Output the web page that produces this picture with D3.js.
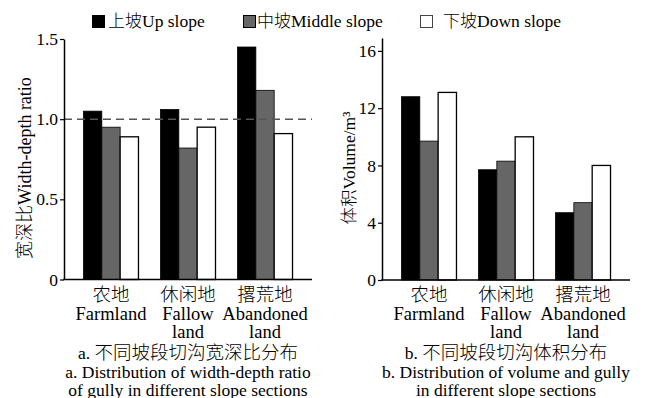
<!DOCTYPE html>
<html>
<head>
<meta charset="utf-8">
<script src="https://cdn.jsdelivr.net/npm/d3@7"></script>
<style>
  body { margin: 0; background: #fff; }
  text { font-family: "Liberation Serif", "Times New Roman", serif; fill: #000; }
</style>
</head>
<body>
<script>
// categories and series names
var landCn = ['农地', '休闲地', '撂荒地'];
var landEn = [['Farmland'], ['Fallow', 'land'], ['Abandoned', 'land']];
var slopes = ['上坡Up slope', '中坡Middle slope', '下坡Down slope'];
var slopeColors = ['#000', '#666', '#fff'];

// width-depth ratio
var ratioUp = [1.05, 1.06, 1.45];
var ratioMiddle = [0.95, 0.82, 1.18];
var ratioDown = [0.89, 0.95, 0.91];
var ratioTicks = [0, 0.5, 1.0, 1.5];

// volume
var volumeUp = [12.8, 7.7, 4.7];
var volumeMiddle = [9.7, 8.3, 5.4];
var volumeDown = [13.1, 10.0, 8.0];
var volumeTicks = [0, 4, 8, 12, 16];

var width = 646, height = 398;

var svg = d3.select('body').append('svg')
	.attr('width', width)
	.attr('height', height);

// put CJK runs in their own tspans so they get a CJK font
function mixedText(sel, str, cjkSize) {
	str.split(/([\u4e00-\u9fff]+)/).forEach(function(part) {
		if (!part) return;
		var t = sel.append('tspan').text(part);
		if (/[\u4e00-\u9fff]/.test(part)) {
			t.style('font-family', '"Noto Sans CJK SC", sans-serif')
				.style('font-weight', 300)
				.style('font-size', cjkSize + 'px');
		}
	});
	return sel;
}

// legend
var legendX = [92, 243, 420];
var legendTextX = [108, 257, 443];
var legend = svg.append('g');
slopes.forEach(function(s, i) {
	legend.append('rect')
		.attr('x', legendX[i] + 0.5).attr('y', 15.5)
		.attr('width', 12).attr('height', 12)
		.attr('fill', slopeColors[i])
		.attr('stroke', i == 2 ? '#444' : '#000')
		.attr('stroke-width', 1);
	var t = legend.append('text')
		.attr('x', legendTextX[i]).attr('y', 27)
		.style('font-size', '17.5px');
	mixedText(t, s, 17);
});

function drawPanel(opts) {
	var g = svg.append('g');

	var x0 = d3.scaleBand()
		.domain(landCn)
		.range([opts.left, opts.right])
		.paddingInner(0.286)
		.paddingOuter(0.253);

	var x1 = d3.scaleBand()
		.domain([0, 1, 2])
		.range([0, x0.bandwidth()]);

	var y = d3.scaleLinear()
		.domain([0, opts.max])
		.range([opts.bottom, opts.top]);

	// bars
	opts.series.forEach(function(vals, si) {
		g.append('g').selectAll('rect')
			.data(vals)
			.enter().append('rect')
			.attr('x', function(d, i) { return x0(landCn[i]) + x1(si); })
			.attr('y', function(d) { return y(d); })
			.attr('width', x1.bandwidth())
			.attr('height', function(d) { return y(0) - y(d); })
			.attr('fill', slopeColors[si])
			.attr('stroke', '#000')
			.attr('stroke-width', si == 2 ? 1.3 : 0.8);
	});

	// reference line
	if (opts.refLine != null) {
		g.append('line')
			.attr('x1', opts.left).attr('x2', opts.right)
			.attr('y1', y(opts.refLine)).attr('y2', y(opts.refLine))
			.attr('stroke', '#555')
			.attr('stroke-width', 1.5)
			.attr('stroke-dasharray', '8,5');
	}

	// y axis
	var yAxis = d3.axisLeft(y)
		.tickValues(opts.ticks)
		.tickFormat(opts.format)
		.tickSize(4)
		.tickSizeOuter(0)
		.tickPadding(2);

	var ya = g.append('g')
		.attr('transform', 'translate(' + opts.left + ',0)')
		.call(yAxis);
	ya.select('.domain').attr('stroke-width', 1.5);
	ya.selectAll('.tick line').attr('stroke-width', 1.2);
	ya.selectAll('text')
		.style('font-size', '17.5px')
		.style('font-family', '"Liberation Serif", serif');

	// x axis line
	var xAxis = d3.axisBottom(x0).tickSize(0).tickFormat('');
	var xa = g.append('g')
		.attr('transform', 'translate(0,' + opts.bottom + ')')
		.call(xAxis);
	xa.select('.domain')
		.attr('d', 'M' + (opts.left - 0.75) + ',0H' + opts.right)
		.attr('stroke-width', 1.5);

	// category labels
	landCn.forEach(function(c, i) {
		var cx = x0(c) + x0.bandwidth() / 2;
		var lines = [c].concat(landEn[i]);
		lines.forEach(function(line, li) {
			var t = g.append('text')
				.attr('x', cx)
				.attr('y', [301, 320, 338][li])
				.attr('text-anchor', 'middle')
				.style('font-size', '18.5px');
			mixedText(t, line, 18.5);
		});
	});

	// y label
	var yl = g.append('text')
		.attr('transform', 'translate(' + opts.labelX + ',' + opts.labelY + ') rotate(-90)')
		.attr('text-anchor', 'middle')
		.style('font-size', opts.labelSize + 'px');
	mixedText(yl, opts.yLabel, opts.labelSize);

	// caption
	var cx = (opts.left + opts.right) / 2;
	opts.caption.forEach(function(line, li) {
		var t = g.append('text')
			.attr('x', cx)
			.attr('y', [359, 378, 396][li])
			.attr('text-anchor', 'middle')
			.style('font-size', '17.5px');
		mixedText(t, line, 18.5);
	});
}

drawPanel({
	left: 64, right: 312, top: 39, bottom: 279.5,
	max: 1.5,
	ticks: ratioTicks,
	format: function(d) { return d == 0 ? '0' : d3.format('.1f')(d); },
	series: [ratioUp, ratioMiddle, ratioDown],
	refLine: 1.0,
	labelX: 31, labelY: 168, labelSize: 18,
	yLabel: '宽深比Width-depth ratio',
	caption: ['a. 不同坡段切沟宽深比分布', 'a. Distribution of width-depth ratio', 'of gully in different slope sections']
});

drawPanel({
	left: 382, right: 630, top: 38, bottom: 280,
	max: 16.9,
	ticks: volumeTicks,
	format: d3.format('d'),
	series: [volumeUp, volumeMiddle, volumeDown],
	refLine: null,
	labelX: 355, labelY: 168, labelSize: 17.5,
	yLabel: '体积Volume/m³',
	caption: ['b. 不同坡段切沟体积分布', 'b. Distribution of volume and gully', 'in different slope sections']
});
</script>
</body>
</html>
